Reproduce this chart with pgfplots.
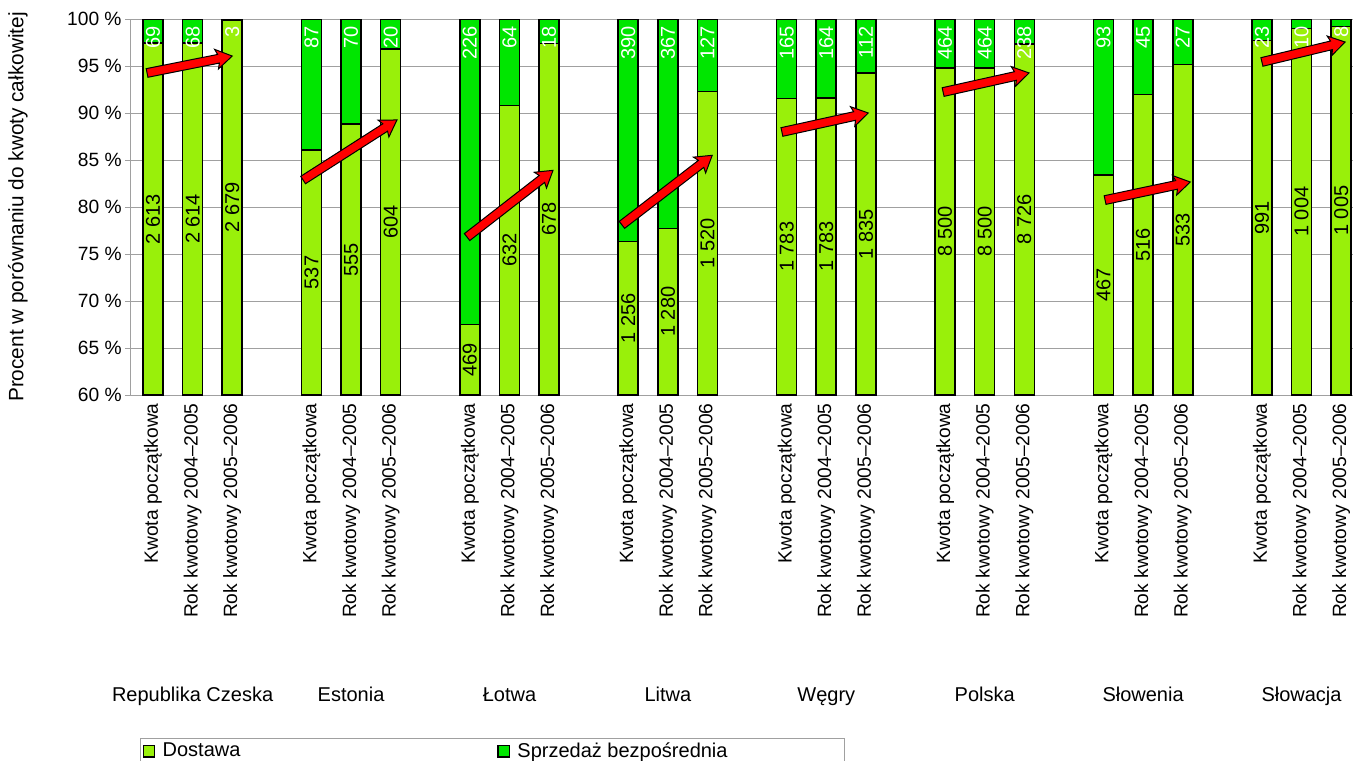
\documentclass[border=0pt]{standalone}
\usepackage{pgfplots}
\pgfplotsset{compat=1.18}
\usepackage{pgfplotstable}
\usepackage{fontspec}
\setmainfont{Liberation Sans}
\usetikzlibrary{calc}

\definecolor{dostawa}{RGB}{153,240,10}
\definecolor{sprzedaz}{RGB}{0,230,0}
\definecolor{siatka}{RGB}{160,160,160}
\newcommand{\lab}{\fontsize{9.6}{11}\selectfont}
\newcommand{\val}{\fontsize{10}{12}\selectfont}

% percentage of total quota: dostawa + sprzedaz = 100
\pgfplotstableread{
x  dost   sprz
0  97.43  2.57
1  97.46  2.54
2  99.89  0.11
4  86.06  13.94
5  88.80  11.20
6  96.79  3.21
8  67.48  32.52
9  90.80  9.20
10 97.41  2.59
12 76.31  23.69
13 77.72  22.28
14 92.29  7.71
16 91.53  8.47
17 91.58  8.42
18 94.25  5.75
20 94.82  5.18
21 94.82  5.18
22 97.34  2.66
24 83.39  16.61
25 91.98  8.02
26 95.18  4.82
28 97.73  2.27
29 99.01  0.99
30 99.21  0.79
}\dane

% labels inside a bar: x, dostawa share, dostawa value, sprzedaz value
\newcommand{\etykiety}[4]{%
  \node[rotate=90, font=\val, inner sep=0pt] at (axis cs:#1,{(#2+60)/2}) {#3};
  \node[rotate=90, anchor=east, text=white, font=\val, inner sep=3.5pt] at (axis cs:#1,100) {#4};}

% red block arrow between two axis points
\newcommand{\strzalka}[4]{%
  \draw[fill=red, draw=black, line width=0.5pt, line join=miter]
    let \p1=(axis cs:#1,#2), \p2=(axis cs:#3,#4), \n1={atan2(\y2-\y1,\x2-\x1)} in
    (\p2) -- ($(\p2)+({\n1+180}:8pt)+({\n1+90}:5pt)$)
    -- ($(\p2)+({\n1+180}:7pt)+({\n1+90}:2.2pt)$)
    -- ($(\p1)+({\n1+90}:2.2pt)$) -- ($(\p1)+({\n1-90}:2.2pt)$)
    -- ($(\p2)+({\n1+180}:7pt)+({\n1-90}:2.2pt)$)
    -- ($(\p2)+({\n1+180}:8pt)+({\n1-90}:5pt)$) -- cycle;}

\pgfplotsset{geometria/.style={
    scale only axis,
    width=611pt, height=188pt,
    xmin=-0.556, xmax=30.3,
    ymin=60, ymax=100}}

\begin{document}
\begin{tikzpicture}
  \begin{axis}[
      geometria,
      ybar stacked, bar width=10pt,
      clip mode=individual,
      axis x line*=bottom, axis y line*=left,
      axis line style={siatka, line width=0.5pt},
      ymajorgrids, grid style={siatka, line width=0.5pt},
      tick align=outside, major tick length=3pt,
      major tick style={siatka, line width=0.5pt},
      xtick style={draw=none},
      ytick={60,65,...,100},
      yticklabels={60 \%,65 \%,70 \%,75 \%,80 \%,85 \%,90 \%,95 \%,100 \%},
      yticklabel style={font=\lab, inner sep=1.5pt},
      xtick={0,1,2,4,5,6,8,9,10,12,13,14,16,17,18,20,21,22,24,25,26,28,29,30},
      xticklabels={Kwota początkowa,Rok kwotowy 2004–2005,Rok kwotowy 2005–2006,
                   Kwota początkowa,Rok kwotowy 2004–2005,Rok kwotowy 2005–2006,
                   Kwota początkowa,Rok kwotowy 2004–2005,Rok kwotowy 2005–2006,
                   Kwota początkowa,Rok kwotowy 2004–2005,Rok kwotowy 2005–2006,
                   Kwota początkowa,Rok kwotowy 2004–2005,Rok kwotowy 2005–2006,
                   Kwota początkowa,Rok kwotowy 2004–2005,Rok kwotowy 2005–2006,
                   Kwota początkowa,Rok kwotowy 2004–2005,Rok kwotowy 2005–2006,
                   Kwota początkowa,Rok kwotowy 2004–2005,Rok kwotowy 2005–2006},
      xticklabel style={rotate=90, anchor=east, font=\lab, inner sep=1pt},
      ylabel={Procent w porównaniu do kwoty całkowitej},
      every axis y label/.style={at={(axis description cs:0,0.5)}, xshift=-56.5pt,
        rotate=90, anchor=center, font=\fontsize{10.4}{12}\selectfont},
      legend columns=2,
      legend cell align=left,
      legend style={at={(0.0074,-0.912)}, anchor=north west, draw=siatka,
        line width=0.5pt, inner xsep=1pt, inner ysep=1pt, font=\val,
        nodes={inner ysep=1pt},
        /tikz/every even column/.append style={column sep=0pt}},
      legend image code/.code={\draw[#1, draw=black, line width=0.6pt]
        (0.5pt,-2.9pt) rectangle (6.3pt,2.9pt);},
    ]

    \addplot[fill=dostawa, draw=black, line width=0.8pt] table[x=x, y=dost] {\dane};
    \addlegendentry{\makebox[167pt][l]{\,Dostawa}}
    \addplot[fill=sprzedaz, draw=black, line width=0.8pt] table[x=x, y=sprz] {\dane};
    \addlegendentry{\makebox[162pt][l]{\,Sprzedaż bezpośrednia}}

    %% --- country names ---
    \foreach \g/\kraj in {1/Republika Czeska, 5/Estonia, 9/Łotwa, 13/Litwa,
                          17/Węgry, 21/Polska, 25/Słowenia, 29/Słowacja} {
      \edef\tmp{\noexpand\node[font=\noexpand\val, anchor=base,
        yshift=-153pt] at (axis cs:\g,60) {\kraj};}\tmp
    }
  \end{axis}

  % second axis on top of the bars: values and trend arrows
  \begin{axis}[geometria, hide axis, clip=false]
    \etykiety{0}{97.43}{2 613}{69}
    \etykiety{1}{97.46}{2 614}{68}
    \etykiety{2}{99.89}{2 679}{3}
    \etykiety{4}{86.06}{537}{87}
    \etykiety{5}{88.80}{555}{70}
    \etykiety{6}{96.79}{604}{20}
    \etykiety{8}{67.48}{469}{226}
    \etykiety{9}{90.80}{632}{64}
    \etykiety{10}{97.41}{678}{18}
    \etykiety{12}{76.31}{1 256}{390}
    \etykiety{13}{77.72}{1 280}{367}
    \etykiety{14}{92.29}{1 520}{127}
    \etykiety{16}{91.53}{1 783}{165}
    \etykiety{17}{91.58}{1 783}{164}
    \etykiety{18}{94.25}{1 835}{112}
    \etykiety{20}{94.82}{8 500}{464}
    \etykiety{21}{94.82}{8 500}{464}
    \etykiety{22}{97.34}{8 726}{238}
    \etykiety{24}{83.39}{467}{93}
    \etykiety{25}{91.98}{516}{45}
    \etykiety{26}{95.18}{533}{27}
    \etykiety{28}{97.73}{991}{23}
    \etykiety{29}{99.01}{1 004}{10}
    \etykiety{30}{99.21}{1 005}{8}

    \strzalka{-0.15}{94.26}{2.0}{96.06}
    \strzalka{3.79}{82.87}{6.16}{89.26}
    \strzalka{7.93}{76.8}{10.1}{83.9}
    \strzalka{11.84}{78.1}{14.12}{85.5}
    \strzalka{15.88}{87.98}{18.06}{90.0}
    \strzalka{19.95}{92.23}{22.12}{94.26}
    \strzalka{24.04}{80.74}{26.19}{82.66}
    \strzalka{28.0}{95.43}{30.1}{97.55}
  \end{axis}
  \pgfresetboundingbox
  \useasboundingbox (-65.5pt,-182.5pt) rectangle (611.5pt,197.5pt);
\end{tikzpicture}
\end{document}
